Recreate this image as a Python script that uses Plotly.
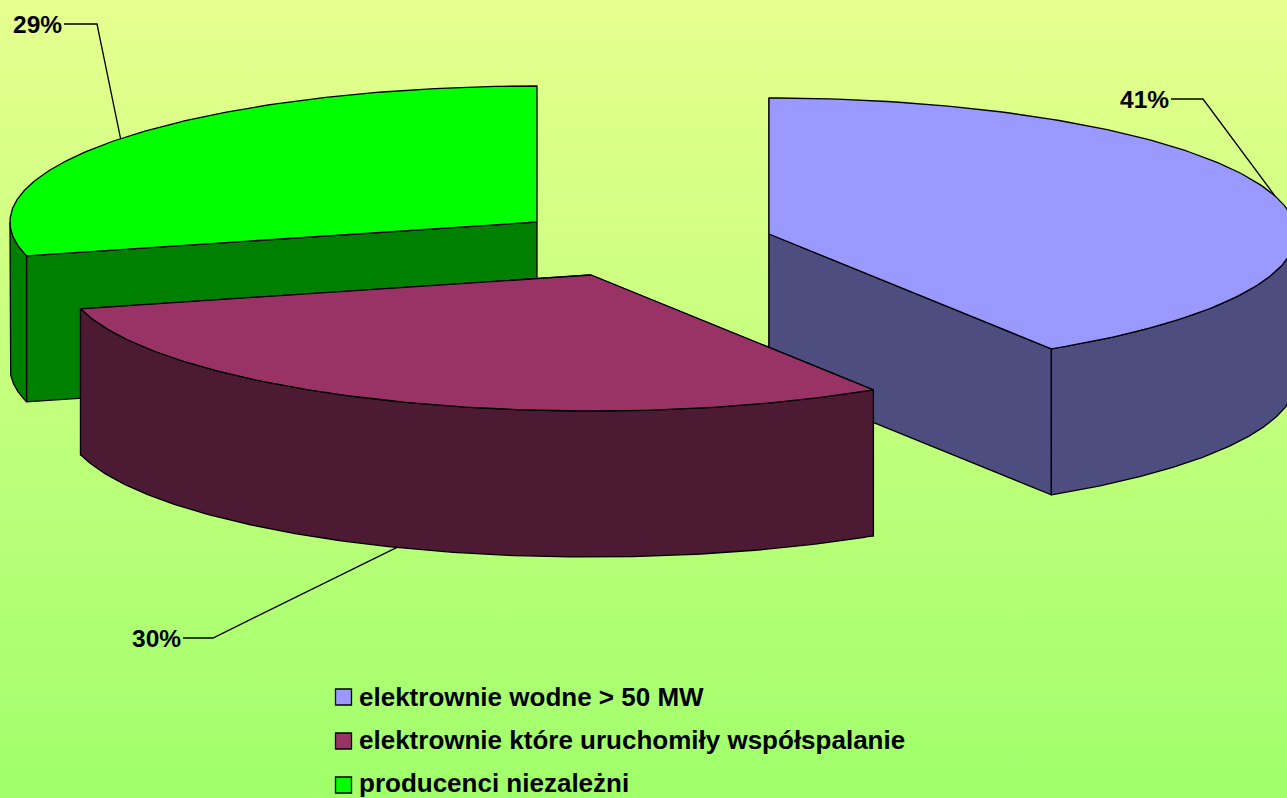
import numpy as np
import plotly.graph_objects as go

# Share of each producer group, in percent
categories = ["elektrownie wodne > 50 MW", "elektrownie które uruchomiły współspalanie", "producenci niezależni"]
shares = [41, 30, 29]
top_colors = ["#9999FF", "#993366", "#00FF00"]
side_colors = ["#4D4D80", "#4D1A33", "#008000"]

WIDTH, HEIGHT = 1287, 798
RX, RY, DEPTH = 527, 136, 146           # ellipse radii and extrusion of the 3D pie
CENTERS = [(769, 234), (591, 275), (537, 222)]  # exploded slice centres
LABEL_ANCHORS = [(1171, 99), (183, 638), (64, 24)]
ELBOW_X = [1203, 213, 97]
LEGEND_X, LEGEND_TEXT_X = 343.5, 359
LEGEND_Y = [697, 741, 785]
LEGEND_TEXT_Y = [697, 740, 783]
FONT = "Liberation Sans, Arial, sans-serif"
EDGE_WIDTH = 1.3


def rim(center, start, stop, drop=0, n=160):
    """Points along the pie's edge; angles run clockwise from 12 o'clock in degrees."""
    t = np.radians(np.linspace(start, stop, n))
    return center[0] + RX * np.sin(t), center[1] - RY * np.cos(t) + drop


def polygon(xs, ys, fill, name):
    return go.Scatter(x=list(xs), y=list(ys), mode="lines", fill="toself", fillcolor=fill,
                      line=dict(color="black", width=EDGE_WIDTH), hoverinfo="name", name=name,
                      showlegend=False)


def slice_traces(center, start, stop, top, side, name):
    cx, cy = center
    traces = []
    # Flat cut faces, seen only on the side turned towards the viewer
    for a in (start, stop):
        if 90 < a % 360 < 270 or a == start and start < 1:
            ex, ey = rim(center, a, a, n=1)
            traces.append(polygon([cx, ex[0], ex[0], cx, cx],
                                  [cy, ey[0], ey[0] + DEPTH, cy + DEPTH, cy], side, name))
    # Outer wall, visible across the front half of the ellipse
    lo, hi = max(start, 90), min(stop, 270)
    if hi > lo:
        ux, uy = rim(center, lo, hi)
        lx, ly = rim(center, hi, lo, DEPTH)
        traces.append(polygon(np.r_[ux, lx, ux[0]], np.r_[uy, ly, uy[0]], side, name))
    # Top face
    ux, uy = rim(center, start, stop)
    traces.append(polygon(np.r_[cx, ux, cx], np.r_[cy, uy, cy], top, name))
    return traces


edges = np.r_[0, np.cumsum(shares)] * 3.6
slices = [slice_traces(CENTERS[i], edges[i], edges[i + 1], top_colors[i], side_colors[i], categories[i])
          for i in range(3)]

fig = go.Figure()

# Page background: vertical yellow-green gradient
fig.add_trace(go.Scatter(
    x=[0, WIDTH, WIDTH, 0, 0], y=[0, 0, HEIGHT, HEIGHT, 0], mode="lines", fill="toself",
    line=dict(width=0), hoverinfo="skip", showlegend=False,
    fillgradient=dict(type="vertical", start=0, stop=HEIGHT,
                      colorscale=[[0, "#E6FF8F"], [1, "#A0FF6B"]])))

# Paint back to front: green, blue, then the red slice over both
for i in (2, 0, 1):
    fig.add_traces(slices[i])

# Percentage labels and their leader lines, which meet the rim at each slice's mid-angle
annotations = []
for i, share in enumerate(shares):
    mid = (edges[i] + edges[i + 1]) / 2
    drop = DEPTH if 90 < mid < 270 else 0
    ex, ey = rim(CENTERS[i], mid, mid, drop, n=1)
    ax, ay = LABEL_ANCHORS[i]
    fig.add_trace(go.Scatter(x=[ax, ELBOW_X[i], ex[0]], y=[ay, ay, ey[0]], mode="lines",
                             line=dict(color="black", width=EDGE_WIDTH), hoverinfo="skip",
                             showlegend=False))
    annotations.append(dict(x=ax, y=ay, xref="x", yref="y", text=f"<b>{share}%</b>",
                            showarrow=False, xanchor="right", yanchor="middle",
                            font=dict(family=FONT, size=24.5, color="black")))

# Key below the pie
fig.add_trace(go.Scatter(
    x=[LEGEND_X] * 3, y=LEGEND_Y, mode="markers", hoverinfo="skip", showlegend=False,
    marker=dict(symbol="square", size=16, color=top_colors, line=dict(color="black", width=1.3))))
for name, y in zip(categories, LEGEND_TEXT_Y):
    annotations.append(dict(x=LEGEND_TEXT_X, y=y, xref="x", yref="y", text=f"<b>{name}</b>",
                            showarrow=False, xanchor="left", yanchor="middle", xshift=-1, borderpad=0,
                            font=dict(family=FONT, size=26, color="black")))

fig.update_layout(
    width=WIDTH, height=HEIGHT, margin=dict(l=0, r=0, t=0, b=0),
    paper_bgcolor="#C0FF7D", plot_bgcolor="rgba(0,0,0,0)", showlegend=False,
    annotations=annotations,
    xaxis=dict(range=[0, WIDTH], visible=False, fixedrange=True),
    yaxis=dict(range=[HEIGHT, 0], visible=False, fixedrange=True),
)

fig.write_html("out.html", config={"displayModeBar": False})
